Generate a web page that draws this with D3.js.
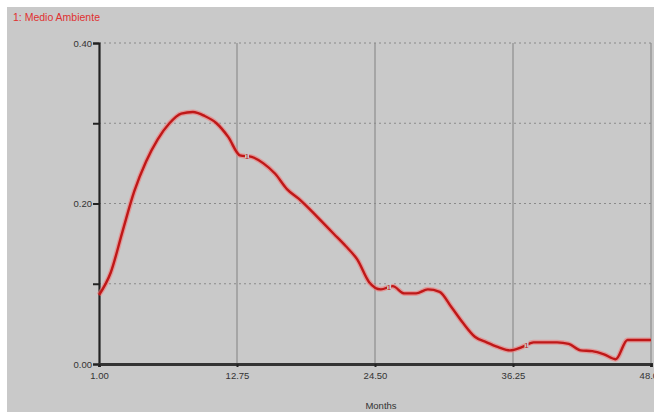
<!DOCTYPE html>
<html>
<head>
<meta charset="utf-8">
<script src="https://cdn.jsdelivr.net/npm/d3@7"></script>
<style>
  body { margin: 0; background: #fff; }
  svg { display: block; font-family: "Liberation Sans", Arial, sans-serif; }
</style>
</head>
<body>
<div class="vis-chart"></div>
<script>
// series: 1: Medio Ambiente, one value per month
const months = d3.range(1, 49);
const values = [
  0.086, 0.114, 0.165, 0.215, 0.252, 0.280, 0.300, 0.312, 0.314, 0.309,
  0.300, 0.283, 0.260, 0.258, 0.250, 0.237, 0.218, 0.206, 0.192, 0.177,
  0.162, 0.147, 0.130, 0.102, 0.093, 0.097, 0.088, 0.088, 0.093, 0.090,
  0.071, 0.051, 0.034, 0.027, 0.021, 0.017, 0.021, 0.027, 0.027, 0.027,
  0.025, 0.017, 0.016, 0.012, 0.006, 0.030, 0.030, 0.030
];
const xTicks = [1, 12.75, 24.5, 36.25, 48];
const yTicks = [0, 0.1, 0.2, 0.3, 0.4];
const yLabelled = [0, 0.2, 0.4];
const seriesName = "1: Medio Ambiente";
const seriesMarks = [13.6, 25.7, 37.4]; // where the "1" tags sit on the curve
const xTitle = "Months";

const W = 654, H = 412;
const margin = { top: 43, right: 3, bottom: 48, left: 99 };
const width = W - margin.left - margin.right;
const height = H - margin.top - margin.bottom;

const data = months.map((m, i) => ({ m, v: values[i] }));

const root = d3.select(".vis-chart").append("svg")
    .attr("width", W)
    .attr("height", H);

// grey panel with the white strip along top and left
root.append("rect")
    .attr("x", 7).attr("y", 7)
    .attr("width", W - 7).attr("height", H - 7)
    .attr("fill", "#c9c9c9");

root.append("text")
    .attr("x", 13).attr("y", 21)
    .attr("fill", "#e03030")
    .attr("font-size", 10.5)
    .text(seriesName);

const svg = root.append("g")
    .attr("transform", `translate(${margin.left},${margin.top})`);

const x = d3.scaleLinear().domain([1, 48]).range([0, width]);
const y = d3.scaleLinear().domain([0, 0.4]).range([height, 0]);

// vertical grid (solid)
svg.append("g")
    .selectAll("line")
    .data(xTicks.slice(1))
    .join("line")
    .attr("x1", d => x(d)).attr("x2", d => x(d))
    .attr("y1", 0).attr("y2", height)
    .attr("stroke", "#8e8e8e")
    .attr("stroke-width", 1.2);

// horizontal grid (dotted)
svg.append("g")
    .selectAll("line")
    .data(yTicks.slice(1))
    .join("line")
    .attr("x1", 0).attr("x2", width)
    .attr("y1", d => y(d)).attr("y2", d => y(d))
    .attr("stroke", "#8a8a8a")
    .attr("stroke-width", 1.2)
    .attr("stroke-dasharray", "2,3");

// y axis
const yAxis = svg.append("g")
    .call(d3.axisLeft(y).tickValues(yTicks).tickSize(6)
        .tickFormat(d => yLabelled.includes(d) ? d3.format(".2f")(d) : ""));
yAxis.select(".domain").attr("stroke", "#222").attr("stroke-width", 2.2);
yAxis.selectAll(".tick line").attr("stroke", "#222").attr("stroke-width", 2);
yAxis.selectAll(".tick text")
    .attr("x", -7)
    .attr("fill", "#333")
    .attr("font-size", 9.5)
    .attr("font-family", "Liberation Sans, Arial, sans-serif");

// x axis
const xAxis = svg.append("g")
    .attr("transform", `translate(0,${height})`)
    .call(d3.axisBottom(x).tickValues(xTicks).tickSize(3).tickFormat(d3.format(".2f")));
xAxis.select(".domain").attr("stroke", "#333").attr("stroke-width", 3);
xAxis.selectAll(".tick line").attr("stroke", "#222").attr("stroke-width", 2);
xAxis.selectAll(".tick text")
    .attr("y", 8)
    .attr("fill", "#333")
    .attr("font-size", 9.5)
    .attr("font-family", "Liberation Sans, Arial, sans-serif");

svg.append("text")
    .attr("x", x(24.5) + 6)
    .attr("y", height + 45)
    .attr("text-anchor", "middle")
    .attr("fill", "#333")
    .attr("font-size", 9.5)
    .text(xTitle);

// the curve
const line = d3.line()
    .x(d => x(d.m))
    .y(d => y(d.v))
    .curve(d3.curveMonotoneX);

svg.append("path")
    .datum(data)
    .attr("fill", "none")
    .attr("stroke", "#f07a7a")
    .attr("stroke-width", 5)
    .attr("stroke-opacity", 0.6)
    .attr("d", line);

svg.append("path")
    .datum(data)
    .attr("fill", "none")
    .attr("stroke", "#bf1818")
    .attr("stroke-width", 2.4)
    .attr("stroke-linejoin", "round")
    .attr("d", line);

// series number tags along the curve
const valueAt = m => {
    const i = Math.floor(m) - 1;
    const f = m - Math.floor(m);
    return values[i] + (values[i + 1] - values[i]) * f;
};
const tags = svg.append("g")
    .selectAll("g")
    .data(seriesMarks)
    .join("g")
    .attr("transform", d => `translate(${x(d)},${y(valueAt(d))})`);
tags.append("rect")
    .attr("x", -2).attr("y", -5)
    .attr("width", 4).attr("height", 9)
    .attr("fill", "#c9c9c9");
tags.append("text")
    .attr("text-anchor", "middle")
    .attr("y", 3)
    .attr("fill", "#bf1818")
    .attr("font-size", 8)
    .text("1");
</script>
</body>
</html>
